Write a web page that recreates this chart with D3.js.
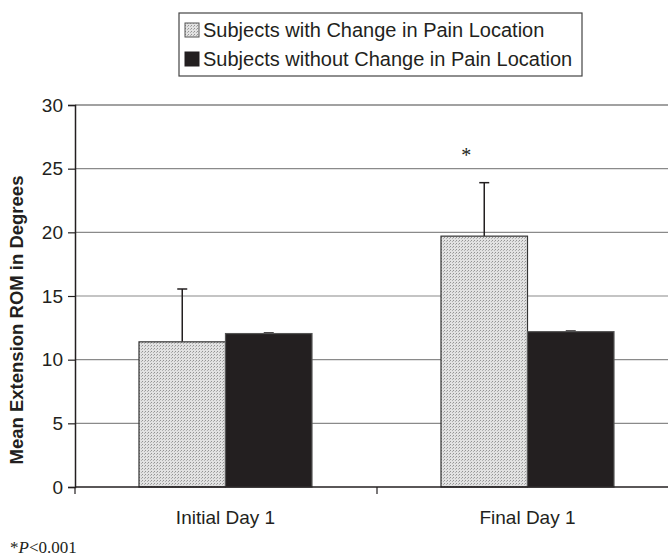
<!DOCTYPE html>
<html>
<head>
<meta charset="utf-8">
<script src="https://cdn.jsdelivr.net/npm/d3@7"></script>
<style>
  body { margin: 0; background: #fff; }
  text { font-family: "Liberation Sans", Arial, sans-serif; fill: #231f20; }
</style>
</head>
<body>
<script>
var categories = ["Initial Day 1", "Final Day 1"],
    seriesNames = ["Subjects with Change in Pain Location", "Subjects without Change in Pain Location"],
    withChange = [11.4, 19.7],
    withChangeErr = [15.55, 23.9],
    withoutChange = [12.05, 12.2],
    withoutChangeErr = [12.1, 12.25],
    yTicks = [0, 5, 10, 15, 20, 25, 30];

var width = 668, height = 558,
    plotLeft = 75, plotRight = 679, plotTop = 105, plotBottom = 487,
    lineColor = "#231f20", gridColor = "#8a8a8a";

var svg = d3.select("body").append("svg")
  .attr("width", width)
  .attr("height", height);

var defs = svg.append("defs");
var pat = defs.append("pattern")
  .attr("id", "stipple")
  .attr("patternUnits", "userSpaceOnUse")
  .attr("width", 3).attr("height", 3);
pat.append("rect").attr("width", 3).attr("height", 3).attr("fill", "#e2e2e2");
pat.append("rect").attr("x", 0).attr("y", 0).attr("width", 1).attr("height", 1).attr("fill", "#939393");
pat.append("rect").attr("x", 2).attr("y", 1).attr("width", 1).attr("height", 1).attr("fill", "#b0b0b0");

var x = d3.scaleBand().domain(categories).range([plotLeft, plotRight]);
var y = d3.scaleLinear().domain([0, 30]).range([plotBottom, plotTop]);
var xs = d3.scaleBand().domain([0, 1]).range([0, 173]);

// gridlines
svg.append("g").selectAll("line")
  .data(yTicks.slice(1))
  .enter().append("line")
  .attr("x1", plotLeft).attr("x2", width)
  .attr("y1", function(d) { return y(d); })
  .attr("y2", function(d) { return y(d); })
  .attr("stroke", function(d) { return d == 30 ? "#444" : gridColor; })
  .attr("stroke-width", 1.2);

// y axis
var yAxis = svg.append("g")
  .attr("transform", "translate(" + plotLeft + ",0)")
  .call(d3.axisLeft(y).tickValues(yTicks).tickSize(7).tickPadding(5));
yAxis.select(".domain").attr("stroke", lineColor).attr("stroke-width", 1.5);
yAxis.selectAll(".tick line").attr("stroke", lineColor).attr("stroke-width", 1.2);
yAxis.selectAll("text").style("font-size", "19px").attr("fill", "#231f20");

// bars
var groups = svg.append("g").selectAll("g")
  .data(categories)
  .enter().append("g")
  .attr("transform", function(d) { return "translate(" + (x(d) + x.bandwidth() / 2 - 87) + ",0)"; });

groups.each(function(d, i) {
  var g = d3.select(this);
  var vals = [withChange[i], withoutChange[i]];
  var errs = [withChangeErr[i], withoutChangeErr[i]];
  vals.forEach(function(v, k) {
    var cx = xs(k) + xs.bandwidth() / 2;
    g.append("line")
      .attr("x1", cx).attr("x2", cx)
      .attr("y1", y(v)).attr("y2", y(errs[k]))
      .attr("stroke", lineColor).attr("stroke-width", 1.5);
    g.append("line")
      .attr("x1", cx - 5).attr("x2", cx + 5)
      .attr("y1", y(errs[k])).attr("y2", y(errs[k]))
      .attr("stroke", lineColor).attr("stroke-width", 1.5);
    g.append("rect")
      .attr("x", xs(k))
      .attr("y", y(v))
      .attr("width", xs.bandwidth())
      .attr("height", y(0) - y(v))
      .attr("fill", k == 0 ? "url(#stipple)" : "#231f20")
      .attr("stroke", k == 0 ? "#333" : "#555")
      .attr("stroke-width", 1.2);
  });
});

// x axis
var xAxis = svg.append("g")
  .attr("transform", "translate(0," + plotBottom + ")");
xAxis.append("line")
  .attr("x1", plotLeft).attr("x2", width)
  .attr("stroke", lineColor).attr("stroke-width", 1.5);
xAxis.selectAll(".tk")
  .data([plotLeft, plotRight - x.bandwidth()])
  .enter().append("line")
  .attr("x1", function(d) { return d; }).attr("x2", function(d) { return d; })
  .attr("y1", 0).attr("y2", 7)
  .attr("stroke", lineColor).attr("stroke-width", 1.2);
xAxis.selectAll("text")
  .data(categories)
  .enter().append("text")
  .attr("x", function(d) { return x(d) + x.bandwidth() / 2 - 0.5; })
  .attr("y", 37)
  .attr("text-anchor", "middle")
  .style("font-size", "19px")
  .text(function(d) { return d; });

// asterisk
svg.append("text")
  .attr("x", x(categories[1]) + x.bandwidth() / 2 - 87 + xs.bandwidth() / 2 - 18)
  .attr("y", 162)
  .attr("text-anchor", "middle")
  .style("font-family", "'Liberation Serif', 'Times New Roman', serif")
  .style("font-size", "20px")
  .text("*");

// y label
svg.append("text")
  .attr("transform", "translate(23," + ((plotTop + plotBottom) / 2 + 24) + ") rotate(-90)")
  .attr("text-anchor", "middle")
  .style("font-size", "18.5px")
  .style("font-weight", "bold")
  .text("Mean Extension ROM in Degrees");

// legend
var legend = svg.append("g").attr("transform", "translate(179,13)");
legend.append("rect")
  .attr("width", 403).attr("height", 63)
  .attr("fill", "none").attr("stroke", "#444").attr("stroke-width", 1.2);
seriesNames.forEach(function(name, k) {
  var ly = 17 + k * 29;
  legend.append("rect")
    .attr("x", 6).attr("y", ly - 7)
    .attr("width", 14).attr("height", 14)
    .attr("fill", k == 0 ? "url(#stipple)" : "#231f20")
    .attr("stroke", k == 0 ? "#555" : "#231f20");
  legend.append("text")
    .attr("x", 24).attr("y", ly + 7)
    .style("font-size", "20px")
    .text(name);
});

// footnote
var foot = svg.append("text")
  .attr("x", 10).attr("y", 553)
  .style("font-family", "'Liberation Serif', 'Times New Roman', serif")
  .style("font-size", "17px");
foot.append("tspan").text("*");
foot.append("tspan").style("font-style", "italic").text("P");
foot.append("tspan").text("<0.001");
</script>
</body>
</html>
